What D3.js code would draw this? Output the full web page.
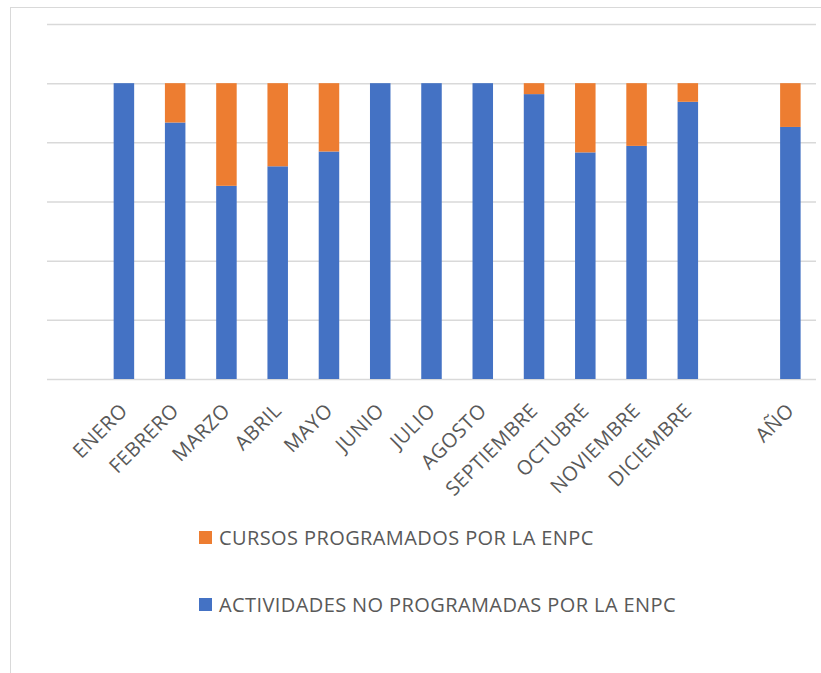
<!DOCTYPE html>
<html>
<head>
<meta charset="utf-8">
<script src="https://cdn.jsdelivr.net/npm/d3@7"></script>
<style>
  body { margin: 0; background: #fff; }
  svg text { font-family: "Open Sans", sans-serif; fill: #595959; letter-spacing: 0.4px; }
</style>
</head>
<body>
<svg id="chart"></svg>
<script>
  // blank slots keep Excel's empty columns (before ENERO and before AÑO)
  const categories = ['', 'ENERO', 'FEBRERO', 'MARZO', 'ABRIL', 'MAYO', 'JUNIO', 'JULIO',
    'AGOSTO', 'SEPTIEMBRE', 'OCTUBRE', 'NOVIEMBRE', 'DICIEMBRE', '', 'AÑO'];
  const actividadesNoProgramadas = [null, 100, 86.7, 65.3, 71.9, 76.9, 100, 100, 100, 96.3, 76.6, 78.8, 93.7, null, 85.2];
  const cursosProgramados = [null, 0, 13.3, 34.7, 28.1, 23.1, 0, 0, 0, 3.7, 23.4, 21.2, 6.3, null, 14.8];
  const seriesNames = ['CURSOS PROGRAMADOS POR LA ENPC', 'ACTIVIDADES NO PROGRAMADAS POR LA ENPC'];
  const yTicks = [0, 20, 40, 60, 80, 100, 120];

  const WIDTH = 821;
  const HEIGHT = 673;
  const PLOT = {left: 47, right: 816, top: 24, bottom: 379};
  const BLUE = '#4472c4';
  const ORANGE = '#ed7d31';

  const svg = d3.select('#chart')
    .attr('width', WIDTH)
    .attr('height', HEIGHT);

  // chart area border
  svg.append('rect')
    .attr('x', 10.5)
    .attr('y', 7.5)
    .attr('width', WIDTH)
    .attr('height', HEIGHT)
    .attr('fill', 'none')
    .attr('stroke', '#d9d9d9');

  const x = d3.scaleBand()
    .domain(d3.range(categories.length))
    .range([PLOT.left, PLOT.right])
    .paddingInner(0.6)
    .paddingOuter(0.3);

  const y = d3.scaleLinear()
    .domain([0, 120])
    .range([PLOT.bottom, PLOT.top]);

  // gridlines
  svg.append('g')
    .attr('transform', `translate(${PLOT.left}, 0)`)
    .call(d3.axisLeft(y).tickValues(yTicks).tickSize(-(PLOT.right - PLOT.left)).tickFormat(''))
    .call(g => g.select('.domain').remove())
    .call(g => g.selectAll('line').attr('stroke', '#d9d9d9').attr('stroke-width', 1.5));

  const rows = categories.map((c, i) => ({
    i: i,
    name: c,
    blue: actividadesNoProgramadas[i],
    orange: cursosProgramados[i]
  })).filter(d => d.blue !== null);

  const bars = svg.append('g');

  bars.selectAll('.blue')
    .data(rows)
    .enter()
    .append('rect')
    .attr('x', d => x(d.i))
    .attr('width', x.bandwidth())
    .attr('y', d => y(d.blue))
    .attr('height', d => y(0) - y(d.blue))
    .attr('fill', BLUE);

  bars.selectAll('.orange')
    .data(rows.filter(d => d.orange > 0))
    .enter()
    .append('rect')
    .attr('x', d => x(d.i))
    .attr('width', x.bandwidth())
    .attr('y', d => y(d.blue + d.orange))
    .attr('height', d => y(d.blue) - y(d.blue + d.orange))
    .attr('fill', ORANGE);

  // rotated category labels
  svg.append('g')
    .selectAll('text')
    .data(rows)
    .enter()
    .append('text')
    .attr('transform', d => `translate(${x(d.i) + x.bandwidth() / 2}, 407) rotate(-45)`)
    .attr('text-anchor', 'end')
    .attr('dy', '0.35em')
    .attr('font-size', 20)
    .text(d => d.name);

  // legend
  const legend = svg.append('g')
    .selectAll('g')
    .data(seriesNames)
    .enter()
    .append('g')
    .attr('transform', (d, i) => `translate(199, ${531 + i * 67})`);

  legend.append('rect')
    .attr('width', 13)
    .attr('height', 13)
    .attr('fill', (d, i) => i === 0 ? ORANGE : BLUE);

  legend.append('text')
    .attr('x', 20)
    .attr('y', 13.5)
    .attr('font-size', 20)
    .text(d => d);
</script>
</body>
</html>
